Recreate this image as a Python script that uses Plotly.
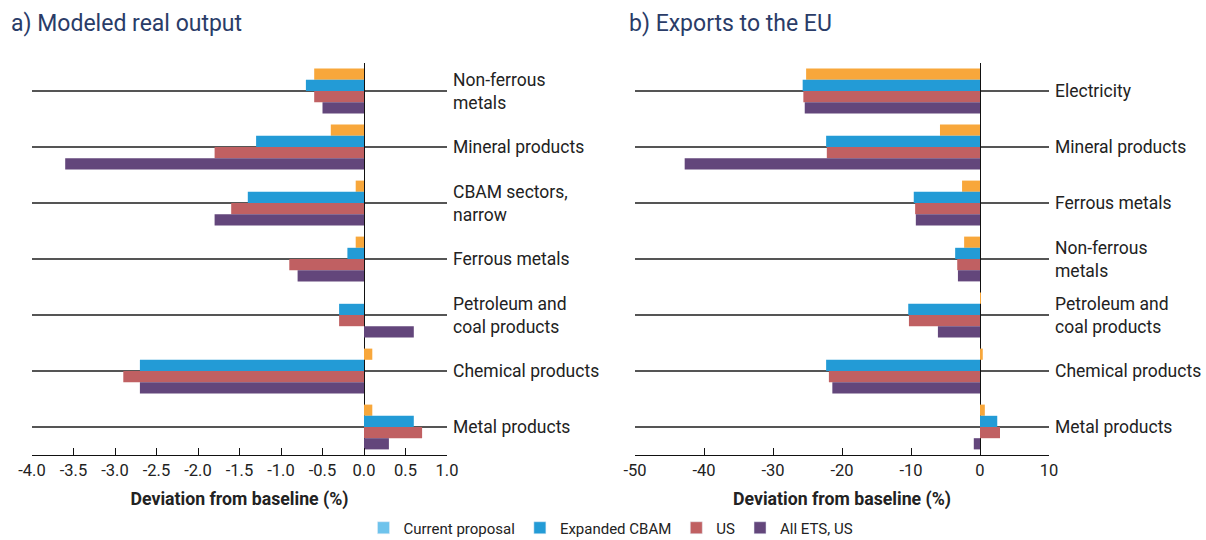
import plotly.graph_objects as go

# ---------------- data ----------------
cats_a = ["Non-ferrous<br>metals", "Mineral products", "CBAM sectors,<br>narrow", "Ferrous metals",
          "Petroleum and<br>coal products", "Chemical products", "Metal products"]
current_a = [-0.6, -0.4, -0.1, -0.1, 0.0, 0.1, 0.1]
expanded_a = [-0.7, -1.3, -1.4, -0.2, -0.3, -2.7, 0.6]
us_a = [-0.6, -1.8, -1.6, -0.9, -0.3, -2.9, 0.7]
allets_a = [-0.5, -3.6, -1.8, -0.8, 0.6, -2.7, 0.3]

cats_b = ["Electricity", "Mineral products", "Ferrous metals", "Non-ferrous<br>metals",
          "Petroleum and<br>coal products", "Chemical products", "Metal products"]
current_b = [-25.2, -5.8, -2.6, -2.3, 0.1, 0.4, 0.7]
expanded_b = [-25.7, -22.3, -9.6, -3.6, -10.4, -22.3, 2.5]
us_b = [-25.6, -22.2, -9.4, -3.3, -10.3, -21.9, 2.9]
allets_b = [-25.4, -42.8, -9.3, -3.2, -6.1, -21.4, -0.9]

series_names = ["Current proposal", "Expanded CBAM", "US", "All ETS, US"]

ticks_a = [-4.0, -3.5, -3.0, -2.5, -2.0, -1.5, -1.0, -0.5, 0.0, 0.5, 1.0]
ticklabels_a = ["-4.0", "-3.5", "-3.0", "-2.5", "-2.0", "-1.5", "-1.0", "-0.5", "0.0", "0.5", "1.0"]
ticks_b = [-50, -40, -30, -20, -10, 0, 10]
ticklabels_b = ["-50", "-40", "-30", "-20", "-10", "0", "10"]

# ---------------- style ----------------
bar_colors = ["#F8A73B", "#239BD6", "#C06062", "#63467B"]
legend_colors = ["#6EC3EC", "#239BD6", "#C06062", "#63467B"]
FONT = "Roboto"
TXT = "#222222"
W, H = 1206, 540

fig = go.Figure()

for vals, col, name in zip([current_a, expanded_a, us_a, allets_a], bar_colors, series_names):
    fig.add_trace(go.Bar(y=cats_a, x=vals, orientation="h", marker=dict(color=col, line=dict(width=0)),
                         name=name, showlegend=False, xaxis="x", yaxis="y"))
for vals, col, name in zip([current_b, expanded_b, us_b, allets_b], bar_colors, series_names):
    fig.add_trace(go.Bar(y=cats_b, x=vals, orientation="h", marker=dict(color=col, line=dict(width=0)),
                         name=name, showlegend=False, xaxis="x2", yaxis="y2"))
# legend entries (on a hidden axis pair so they don't affect bar grouping)
for col, name in zip(legend_colors, series_names):
    fig.add_trace(go.Bar(y=[None], x=[None], orientation="h", marker=dict(color=col),
                         name=name, showlegend=True, xaxis="x3", yaxis="y3"))

ybot, ytop = 1 - 455 / H, 1 - 63 / H

common_x = dict(showgrid=False, zeroline=True, zerolinecolor="#111111", zerolinewidth=1.2,
                showline=True, linecolor="#111111", linewidth=1.2,
                ticks="inside", ticklen=7, tickcolor="#111111", tickwidth=1,
                tickfont=dict(family=FONT, size=16.5, color=TXT), automargin=False,
                title=dict(text="<b>Deviation from baseline (%)</b>",
                           font=dict(family=FONT, size=17.7, color=TXT), standoff=13))
common_y = dict(side="right", autorange="reversed", showgrid=True, gridcolor="#555555", gridwidth=1.5,
                showline=False, ticks="", zeroline=False, automargin=False,
                tickfont=dict(family=FONT, size=17.5, color=TXT), ticklabelstandoff=5)

fig.update_layout(
    width=W, height=H,
    margin=dict(l=0, r=0, t=0, b=0, autoexpand=False),
    paper_bgcolor="white", plot_bgcolor="white",
    barmode="group", bargap=0.2, bargroupgap=0,
    font=dict(family=FONT, color=TXT),
    xaxis=dict(domain=[32 / W, 447 / W], range=[-4, 1], tickvals=ticks_a, ticktext=ticklabels_a,
               anchor="y", **common_x),
    yaxis=dict(domain=[ybot, ytop], anchor="x", **common_y),
    xaxis2=dict(domain=[635 / W, 1049 / W], range=[-50, 10], tickvals=ticks_b, ticktext=ticklabels_b,
                anchor="y2", **common_x),
    yaxis2=dict(domain=[ybot, ytop], anchor="x2", **common_y),
    xaxis3=dict(domain=[0, 0.01], visible=False, anchor="y3"),
    yaxis3=dict(domain=[0, 0.01], visible=False, anchor="x3"),
    showlegend=True,
    legend=dict(orientation="h", x=611 / W, xanchor="center", y=12 / H, yanchor="middle",
                font=dict(family=FONT, size=15, color=TXT), itemwidth=30, traceorder="normal",
                bgcolor="rgba(0,0,0,0)", borderwidth=0),
)

fig.add_annotation(text="a) Modeled real output", xref="paper", yref="paper", x=9 / W, y=1 - 23 / H,
                   xanchor="left", yanchor="middle", showarrow=False,
                   font=dict(family=FONT, size=23, color="#2A3C68"))
fig.add_annotation(text="b) Exports to the EU", xref="paper", yref="paper", x=627 / W, y=1 - 23 / H,
                   xanchor="left", yanchor="middle", showarrow=False,
                   font=dict(family=FONT, size=23, color="#2A3C68"))

fig.write_html("out.html", config={"displayModeBar": False},
               post_script="document.body.style.margin='0';")
